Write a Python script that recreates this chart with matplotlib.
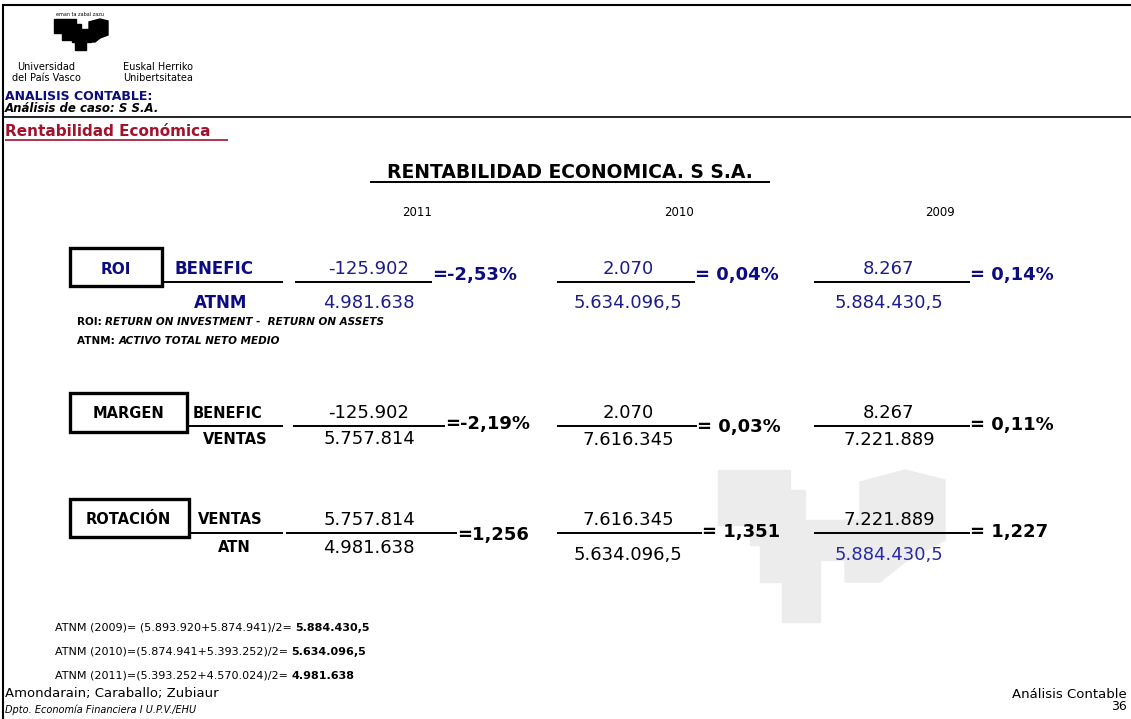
import matplotlib.pyplot as plt
from matplotlib.patches import Rectangle, Polygon

# --- data ---
years = ['2011', '2010', '2009']
ratio_names = ['ROI', 'MARGEN', 'ROTACIÓN']
num_labels = ['BENEFIC', 'BENEFIC', 'VENTAS']
den_labels = ['ATNM', 'VENTAS', 'ATN']
numerators = [
    ['-125.902', '2.070', '8.267'],
    ['-125.902', '2.070', '8.267'],
    ['5.757.814', '7.616.345', '7.221.889'],
]
denominators = [
    ['4.981.638', '5.634.096,5', '5.884.430,5'],
    ['5.757.814', '7.616.345', '7.221.889'],
    ['4.981.638', '5.634.096,5', '5.884.430,5'],
]
results = [
    ['=-2,53%', '= 0,04%', '= 0,14%'],
    ['=-2,19%', '= 0,03%', '= 0,11%'],
    ['=1,256', '= 1,351', '= 1,227'],
]
atnm_calc = [
    ('ATNM (2009)= (5.893.920+5.874.941)/2= ', '5.884.430,5'),
    ('ATNM (2010)=(5.874.941+5.393.252)/2= ', '5.634.096,5'),
    ('ATNM (2011)=(5.393.252+4.570.024)/2= ', '4.981.638'),
]

NAVY = '#0c0c80'
NAVY_NUM = '#1c1c8c'
RED = '#a3122c'

fig = plt.figure(figsize=(11.31, 7.19), dpi=100)
ax = fig.add_axes([0, 0, 1, 1])
ax.set_xlim(0, 1131)
ax.set_ylim(719, 0)
ax.axis('off')


def txt(x, y, s, **kw):
    kw.setdefault('va', 'center')
    kw.setdefault('fontsize', 12)
    return ax.text(x, y, s, **kw)


def line(x0, x1, y, lw=1.4, color='black'):
    ax.plot([x0, x1], [y, y], color=color, lw=lw, solid_capstyle='butt')


# frame
ax.plot([3, 3], [5, 719], color='black', lw=1.5)
line(3, 1131, 5, lw=1.5)
line(3, 1131, 117, lw=1.2)

# logo (approximate)
logo = [
    [(54, 19), (76, 19), (76, 24), (81, 24), (81, 35), (72, 35), (72, 40), (62, 40), (62, 33), (54, 33)],
    [(72, 35), (81, 35), (81, 29), (91, 29), (91, 42), (86, 42), (86, 50), (75, 50), (75, 42), (72, 42)],
    [(89, 22), (100, 19), (108, 21), (108, 35), (100, 38), (95, 42), (91, 42), (91, 29), (89, 29)],
]
for p in logo:
    ax.add_patch(Polygon(p, closed=True, color='black'))
txt(80, 14, 'eman ta zabal zazu', fontsize=3.5, ha='center')
txt(46, 67, 'Universidad', fontsize=7, ha='center')
txt(46, 78, 'del País Vasco', fontsize=7, ha='center')
txt(123, 67, 'Euskal Herriko', fontsize=7, ha='left')
txt(123, 78, 'Unibertsitatea', fontsize=7, ha='left')
txt(5, 96, 'ANALISIS CONTABLE:', fontsize=9, fontweight='bold', color=NAVY)
txt(5, 109, 'Análisis de caso: S S.A.', fontsize=8.5, fontweight='bold', style='italic')
txt(5, 131, 'Rentabilidad Económica', fontsize=11, fontweight='bold', color=RED)
line(5, 228, 140, lw=1.2, color=RED)

# watermark
wm = [
    [(718, 470), (790, 470), (790, 490), (805, 490), (805, 520), (785, 520), (785, 545), (750, 545), (750, 525), (718, 525)],
    [(760, 545), (785, 545), (785, 520), (845, 520), (845, 560), (820, 560), (820, 622), (782, 622), (782, 582), (760, 582)],
    [(860, 482), (905, 470), (945, 480), (945, 540), (905, 562), (880, 582), (845, 582), (845, 520), (860, 520)],
]
for p in wm:
    ax.add_patch(Polygon(p, closed=True, color='#ececec', zorder=0))

# title and years
txt(570, 172, 'RENTABILIDAD ECONOMICA. S S.A.', fontsize=13.5, fontweight='bold', ha='center')
line(370, 770, 182, lw=1.4)
year_x = [417, 679, 940]
for x, yr in zip(year_x, years):
    txt(x, 213, yr, fontsize=8.5, ha='center')

# ratio rows (layout)
row_line = [282, 426, 533]
box = [(70, 162, 248, 286), (70, 187, 393, 432), (70, 189, 499, 537)]
name_x = [116, 128, 128]
lab_x = [175, 193, 198]
den_lab_x = [221, 235, 234]
row_color = [NAVY, 'black', 'black']
num_color = [NAVY_NUM, 'black', 'black']
name_fs = [11, 10.5, 10.5]
lab_fs = [12, 10.5, 10.5]
num_dy = [-13, -13, -13]
den_dy = [[21, 21, 21], [13, 14, 14], [15, 22, 22]]
res_dy = [[-7, -7, -7], [-2, 1, -1], [2, -1, -1]]
col_line = [[(295, 432), (557, 695), (814, 970)],
            [(293, 445), (557, 697), (814, 970)],
            [(286, 457), (557, 702), (814, 970)]]
col_center = [369, 628, 889]

for i, name in enumerate(ratio_names):
    y = row_line[i]
    bx0, bx1, by0, by1 = box[i]
    ax.add_patch(Rectangle((bx0, by0), bx1 - bx0, by1 - by0, fill=False, lw=2.4, ec='black'))
    txt(name_x[i], y - 13, name, fontsize=name_fs[i], fontweight='bold', color=row_color[i], ha='center')
    txt(lab_x[i], y - 13, num_labels[i], fontsize=lab_fs[i], fontweight='bold', color=row_color[i], ha='left')
    line(bx1, 283, y)
    txt(den_lab_x[i], y + den_dy[i][0], den_labels[i], fontsize=lab_fs[i], fontweight='bold',
        color=row_color[i], ha='center')
    for j in range(3):
        x0, x1 = col_line[i][j]
        line(x0, x1, y)
        txt(col_center[j], y + num_dy[i], numerators[i][j], fontsize=13, color=num_color[i], ha='center')
        dcol = num_color[i]
        if i == 2 and j == 2:
            dcol = '#2a2aa5'
        txt(col_center[j], y + den_dy[i][j], denominators[i][j], fontsize=13, color=dcol, ha='center')
        txt(x1, y + res_dy[i][j], results[i][j], fontsize=13, fontweight='bold',
            color=row_color[i], ha='left')

# notes under ROI
t = txt(77, 322, 'ROI: ', fontsize=7.5, fontweight='bold')
ax.annotate('RETURN ON INVESTMENT -  RETURN ON ASSETS', xy=(1, 0), xycoords=t,
            va='bottom', fontsize=7.5, fontweight='bold', style='italic')
t = txt(77, 341, 'ATNM: ', fontsize=7.5, fontweight='bold')
ax.annotate('ACTIVO TOTAL NETO MEDIO', xy=(1, 0), xycoords=t,
            va='bottom', fontsize=7.5, fontweight='bold', style='italic')

# ATNM calculations
for k, (calc, val) in enumerate(atnm_calc):
    t = txt(55, 628 + 24 * k, calc, fontsize=8)
    ax.annotate(val, xy=(1, 0), xycoords=t, va='bottom', fontsize=8, fontweight='bold')

# footer
txt(5, 694, 'Amondarain; Caraballo; Zubiaur', fontsize=9.5)
txt(5, 710, 'Dpto. Economía Financiera I U.P.V./EHU', fontsize=7, style='italic')
txt(1127, 694, 'Análisis Contable', fontsize=9.5, ha='right')
txt(1127, 706, '36', fontsize=9, ha='right')

fig.savefig('out.png', dpi=100, facecolor='white')
